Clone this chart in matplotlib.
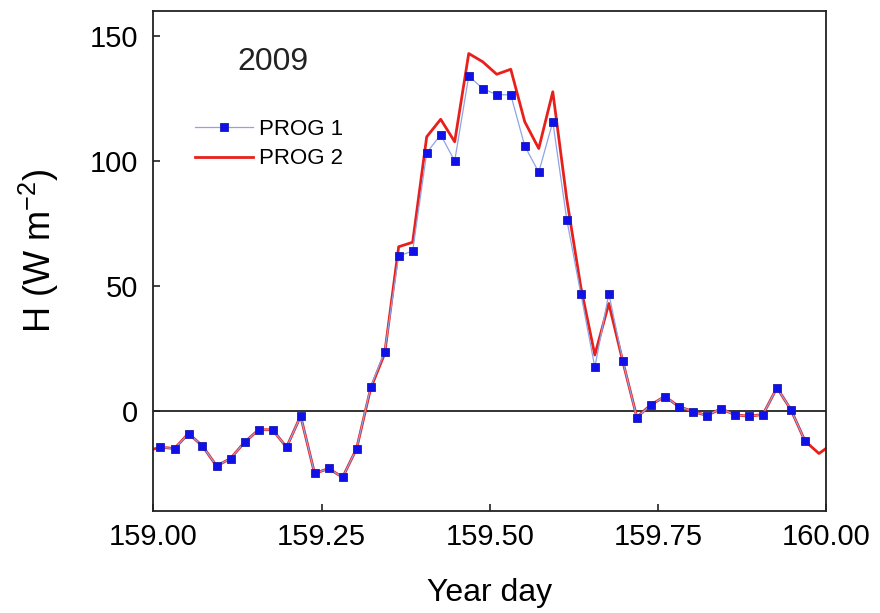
import numpy as np
import matplotlib
matplotlib.use("Agg")
import matplotlib.pyplot as plt

plt.rcParams["font.family"] = ["Liberation Sans", "DejaVu Sans"]
plt.rcParams["mathtext.fontset"] = "custom"
plt.rcParams["mathtext.rm"] = "Liberation Sans"
plt.rcParams["mathtext.it"] = "Liberation Sans"

# Half-hourly time stamps (year day), centred on each half hour
year_day = [
    158.9896, 159.0104, 159.0313, 159.0521, 159.0729, 159.0938, 159.1146,
    159.1354, 159.1563, 159.1771, 159.1979, 159.2188, 159.2396, 159.2604,
    159.2813, 159.3021, 159.3229, 159.3438, 159.3646, 159.3854, 159.4063,
    159.4271, 159.4479, 159.4688, 159.4896, 159.5104, 159.5313, 159.5521,
    159.5729, 159.5938, 159.6146, 159.6354, 159.6563, 159.6771, 159.6979,
    159.7188, 159.7396, 159.7604, 159.7813, 159.8021, 159.8229, 159.8438,
    159.8646, 159.8854, 159.9063, 159.9271, 159.9479, 159.9688, 159.9896,
    160.0104,
]

# Sensible heat flux H (W m-2)
prog1 = [
    np.nan,
    -14.5, -15.0, -9.0, -14.0, -22.0, -19.0, -12.5, -7.5, -7.5, -14.5,
    -2.0, -25.0, -23.0, -26.5, -15.0, 9.5, 23.7, 62.0, 64.0, 103.3,
    110.5, 100.0, 134.0, 129.0, 126.5, 126.5, 106.0, 95.5, 115.7, 76.5,
    47.0, 17.5, 47.0, 20.0, -2.7, 2.5, 5.8, 1.8, -0.2, -1.8,
    0.9, -1.5, -2.1, -1.4, 9.3, 0.5, -12.0,
    np.nan, np.nan,
]
prog2 = [
    -16.0,
    -14.5, -15.0, -9.0, -14.0, -22.0, -19.0, -12.5, -7.5, -7.5, -14.5,
    -2.0, -25.0, -23.0, -26.5, -15.0, 9.0, 23.0, 65.7, 67.5, 109.7,
    116.7, 107.7, 143.0, 139.7, 134.7, 136.7, 115.7, 105.0, 127.7, 84.7,
    49.7, 22.4, 43.0, 19.8, -2.5, 2.5, 5.8, 1.8, -0.2, -1.8,
    0.9, -1.5, -2.1, -1.4, 9.3, 0.5, -12.0,
    -17.0, -13.0,
]

x_ticks = [159.00, 159.25, 159.50, 159.75, 160.00]
y_ticks = [0, 50, 100, 150]

fig = plt.figure(figsize=(8.8, 6.13), dpi=100)
ax = fig.add_axes([0.1744, 0.1664, 0.7642, 0.8156])

ax.axhline(0, color="#222222", lw=1.3, zorder=1)
ax.plot(year_day, prog2, color="#e8201c", lw=2.0, zorder=2, label="PROG 2")
ax.plot(year_day, prog1, color="#8ea4e6", lw=0.9, marker="s", ms=6,
        mfc="#1010e8", mec="#1a1ab0", mew=0.6, zorder=3, label="PROG 1")

ax.set_xlim(159.0, 160.0)
ax.set_ylim(-40, 160)
ax.set_xticks(x_ticks)
ax.set_xticklabels([f"{v:.2f}" for v in x_ticks])
ax.set_yticks(y_ticks)
ax.tick_params(direction="in", length=5, width=1.2, labelsize=21,
               color="#222222")
ax.tick_params(axis="x", pad=9)
ax.tick_params(axis="y", pad=11)
for sp in ax.spines.values():
    sp.set_linewidth(1.3)
    sp.set_color("#222222")

ax.set_xlabel("Year day", fontsize=23)
ax.xaxis.set_label_coords(0.5, -0.135)
ax.set_ylabel("H (W m$^{-2}$)", fontsize=26)
ax.yaxis.set_label_coords(-0.138, 0.52)

ax.text(0.178, 0.898, "2009", transform=ax.transAxes, fontsize=23,
        ha="center", va="center", color="#222222")

handles, labels = ax.get_legend_handles_labels()
ax.legend(handles[::-1], labels[::-1], loc="upper left",
          bbox_to_anchor=(0.062, 0.784), frameon=False, fontsize=16,
          borderpad=0, borderaxespad=0, handlelength=2.6,
          handletextpad=0.25, labelspacing=0.38, numpoints=1)

fig.savefig("out.png", dpi=100)
